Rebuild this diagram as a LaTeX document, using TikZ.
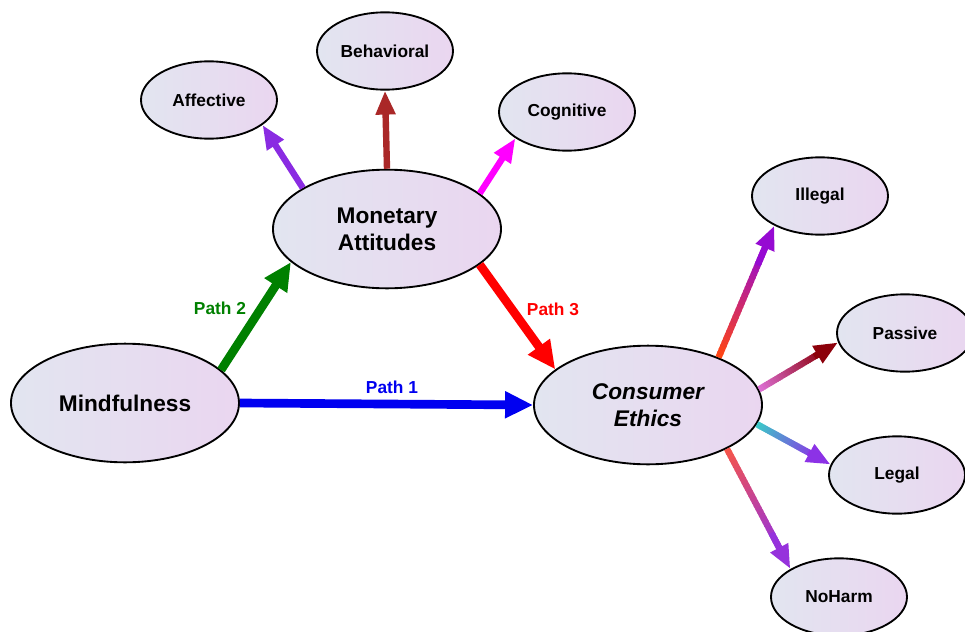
\documentclass[tikz,border=0pt]{standalone}
\usepackage{fontspec}
\setmainfont{Liberation Sans}
\usetikzlibrary{arrows.meta,calc,shapes.geometric}
\definecolor{fillL}{RGB}{226,229,240}
\definecolor{fillR}{RGB}{234,214,240}
\definecolor{pblue}{RGB}{0,0,240}
\definecolor{pgreen}{RGB}{0,128,0}
\definecolor{pred}{RGB}{255,0,0}
\definecolor{cbrown}{RGB}{170,40,40}
\definecolor{cpurple}{RGB}{138,43,226}
\definecolor{cmag}{RGB}{255,0,255}
\definecolor{illA}{RGB}{255,70,20}
\definecolor{illB}{RGB}{150,10,210}
\definecolor{pasA}{RGB}{220,110,210}
\definecolor{pasB}{RGB}{140,0,10}
\definecolor{legA}{RGB}{60,200,200}
\definecolor{legB}{RGB}{140,50,230}
\definecolor{nohA}{RGB}{245,85,75}
\definecolor{nohB}{RGB}{150,50,220}
\tikzset{
  oval/.style={ellipse, draw=black, line width=1.4pt, left color=fillL, right color=fillR,
    inner sep=0pt, align=center, font=\bfseries},
  bigoval/.style={oval, minimum width=171pt, minimum height=89pt, font=\fontsize{17}{20}\selectfont\bfseries},
  smalloval/.style={oval, minimum width=102pt, minimum height=58pt, font=\fontsize{13}{15}\selectfont\bfseries},
  mainarrow/.style={line width=6.5pt, -{Triangle[length=21pt,width=19pt]}},
  subarrow/.style={line width=4.8pt, -{Triangle[length=18pt,width=14pt]}},
  pathlabel/.style={font=\fontsize{13}{15}\selectfont\bfseries}
}
\newcommand\gradarrow[4]{%
  \foreach \i in {0,...,29}{%
    \pgfmathsetmacro\ta{\i/30*0.82}%
    \pgfmathsetmacro\tb{(\i+1.4)/30*0.82}%
    \pgfmathtruncatemacro\p{100*\i/29}%
    \draw[line width=4.8pt, color={#4!\p!#3}] ($(#1)!\ta!(#2)$) -- ($(#1)!\tb!(#2)$);
  }%
  \draw[subarrow, #4] ($(#1)!0.7!(#2)$) -- (#2);
}
\begin{document}
\begin{tikzpicture}[x=0.75pt,y=-0.75pt]
\useasboundingbox (0,0) rectangle (965,632);
% nodes
\node[bigoval] (mind) at (125,403) {Mindfulness};
\node[bigoval] (mon) at (387,229) {Monetary\\Attitudes};
\node[bigoval, font=\fontsize{17}{20}\selectfont\bfseries\itshape] (ce) at (648,405) {Consumer\\Ethics};
\node[smalloval] (beh) at (385,51) {Behavioral};
\node[smalloval] (aff) at (209,100) {Affective};
\node[smalloval] (cog) at (567,112) {Cognitive};
\node[smalloval] (ill) at (820,196) {Illegal};
\node[smalloval] (pas) at (905,333) {Passive};
\node[smalloval] (leg) at (897,475) {Legal};
\node[smalloval] (noh) at (839,597) {NoHarm};
% main paths
\draw[mainarrow, pblue] (mind.east) -- (ce.west);
\draw[mainarrow, pgreen] (mind.19.5) -- (mon.199);
\draw[mainarrow, pred] (mon.-21.6) -- (ce.159);
\node[pathlabel, pblue] (l1) at (392,387) {Path 1};
\node[pathlabel, pgreen] (l2) at (220,308) {Path 2};
\node[pathlabel, pred] (l3) at (553,309) {Path 3};
% monetary attitude dimensions
\draw[subarrow, cpurple] (mon.154.8) -- (aff.335);
\draw[subarrow, cbrown] (mon.north) -- (beh.south);
\draw[subarrow, cmag] (mon.21) -- (cog.207.7);
% consumer ethics dimensions
\gradarrow{ce.34.8}{ill.213.7}{illA}{illB}
\gradarrow{ce.8.9}{pas.188.7}{pasA}{pasB}
\gradarrow{ce.-10.4}{leg.171}{legA}{legB}
\gradarrow{ce.-29.7}{noh.150}{nohA}{nohB}
\end{tikzpicture}
\end{document}
